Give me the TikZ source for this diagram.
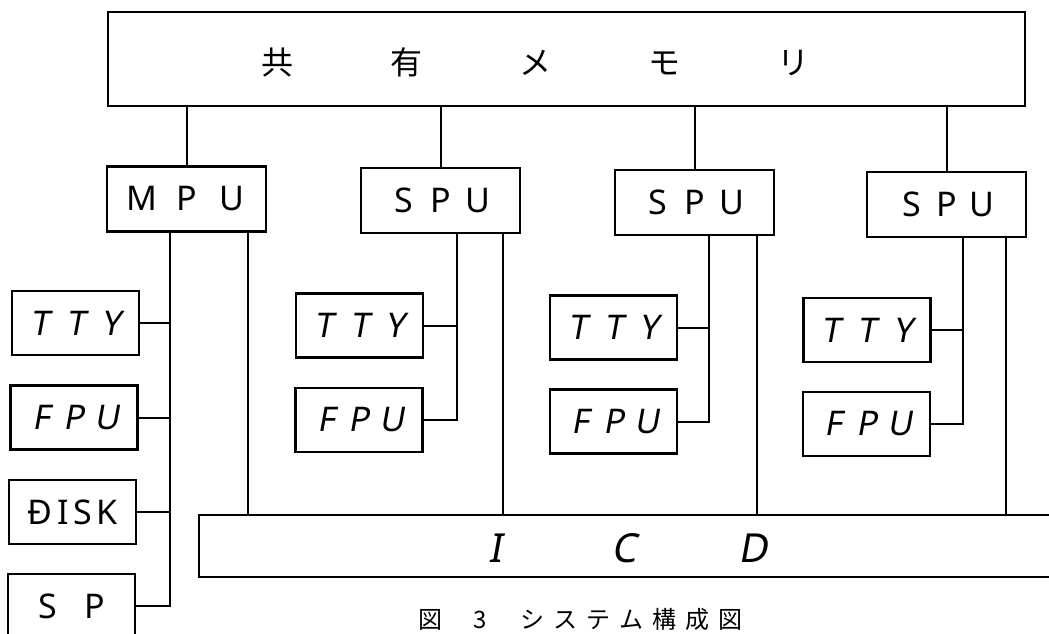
\documentclass[tikz,border=0pt]{standalone}
\usepackage{fontspec}
\setmainfont{Noto Sans}
\newfontfamily\jp{Noto Sans CJK JP}
\newfontfamily\slat[FakeSlant=0.18]{Noto Sans}
\usetikzlibrary{calc}
\newcommand\chbox[2]{\makebox[#1pt]{#2}}
\begin{document}
\begin{tikzpicture}[x=1pt,y=-1pt,
  box/.style={draw, line width=2.5pt, rectangle, inner sep=0pt,
    minimum width=127pt, minimum height=64pt, font=\fontsize{34}{34}\selectfont},
  pu/.style={box, minimum width=159pt, minimum height=65pt},
  wire/.style={line width=2pt},
  lbl/.style={inner sep=0pt}]
\useasboundingbox (0,0) rectangle (1049,634);
\clip (0,0) rectangle (1049,634);
\fill[white] (0,0) rectangle (1049,634);

% shared memory
\node[box, minimum width=917pt, minimum height=94pt] (mem) at (566.5,59) {};
\node[lbl, font=\jp\fontsize{32}{32}\selectfont] (memt) at (535.5,62)
  {\chbox{129}{共}\chbox{129}{有}\chbox{129}{メ}\chbox{129}{モ}\chbox{129}{リ}};

% processors
\node[pu] (mpu)  at (186.5,199)   {\chbox{45}{M}\chbox{45}{P}\chbox{45}{U}};
\node[pu] (spu1) at (440.5,200.5) {\chbox{37}{S}\chbox{37}{P}\chbox{37}{U}};
\node[pu] (spu2) at (694.5,202.5) {\chbox{37}{S}\chbox{37}{P}\chbox{37}{U}};
\node[pu] (spu3) at (946.5,204.5) {\chbox{35}{S}\chbox{35}{P}\chbox{35}{U}};

% MPU peripherals
\node[box] (tty0)  at (75.5,323)  {\slat\chbox{36}{T}\chbox{36}{T}\chbox{36}{Y}};
\node[box] (fpu0)  at (74,417.5)  {\slat\chbox{33}{F}\chbox{33}{P}\chbox{33}{U}};
\node[box] (disk0) at (72.5,512)  {Đ\hspace{5pt}I\hspace{5pt}S\hspace{4pt}K};
\node[box] (sp0)   at (71.5,606)  {\chbox{47}{S}\chbox{47}{P}};

% SPU peripherals
\node[box] (tty1) at (359.5,325.5) {\slat\chbox{36}{T}\chbox{36}{T}\chbox{36}{Y}};
\node[box] (fpu1) at (359,420)     {\slat\chbox{33}{F}\chbox{33}{P}\chbox{33}{U}};
\node[box] (tty2) at (613.5,327.5) {\slat\chbox{36}{T}\chbox{36}{T}\chbox{36}{Y}};
\node[box] (fpu2) at (613.5,421.5) {\slat\chbox{33}{F}\chbox{33}{P}\chbox{33}{U}};
\node[box] (tty3) at (867,330)     {\slat\chbox{36}{T}\chbox{36}{T}\chbox{36}{Y}};
\node[box] (fpu3) at (866.5,424)   {\slat\chbox{33}{F}\chbox{33}{P}\chbox{33}{U}};

% ICD
\node[box, minimum width=871pt, minimum height=62pt] (icd) at (634.5,546) {};
\node[lbl, font=\slat\fontsize{40}{40}\selectfont] (icdt) at (624,548)
  {\chbox{129}{I}\chbox{129}{C}\chbox{129}{D}};

% memory to processors
\foreach \p in {mpu,spu1,spu2,spu3}
  \draw[wire] (\p.north) -- (\p.north |- mem.south);

% drop points
\coordinate (ma)  at ($(mpu.south west)!0.40!(mpu.south east)$);
\coordinate (mb)  at ($(mpu.south west)!0.88!(mpu.south east)$);
\coordinate (s1a) at ($(spu1.south west)!0.60!(spu1.south east)$);
\coordinate (s1b) at ($(spu1.south west)!0.89!(spu1.south east)$);
\coordinate (s2a) at ($(spu2.south west)!0.59!(spu2.south east)$);
\coordinate (s2b) at ($(spu2.south west)!0.89!(spu2.south east)$);
\coordinate (s3a) at ($(spu3.south west)!0.60!(spu3.south east)$);
\coordinate (s3b) at ($(spu3.south west)!0.87!(spu3.south east)$);

% MPU bus
\draw[wire] (ma) |- (sp0.east);
\draw[wire] (tty0.east) -- (tty0.east -| ma);
\draw[wire] (fpu0.east) -- (fpu0.east -| ma);
\draw[wire] (disk0.east) -- (disk0.east -| ma);
\draw[wire] (mb) -- (mb |- icd.north);

% SPU buses
\draw[wire] (s1a) |- (fpu1.east);
\draw[wire] (tty1.east) -- (tty1.east -| s1a);
\draw[wire] (s1b) -- (s1b |- icd.north);
\draw[wire] (s2a) |- (fpu2.east);
\draw[wire] (tty2.east) -- (tty2.east -| s2a);
\draw[wire] (s2b) -- (s2b |- icd.north);
\draw[wire] (s3a) |- (fpu3.east);
\draw[wire] (tty3.east) -- (tty3.east -| s3a);
\draw[wire] (s3b) -- (s3b |- icd.north);

% caption
\node[lbl, font=\jp\fontsize{24}{24}\selectfont] (cap) at (580.5,619)
  {\chbox{33}{図}\hspace{17pt}\chbox{33}{3}\hspace{20pt}\chbox{33}{シ}\chbox{33}{ス}\chbox{33}{テ}\chbox{33}{ム}\chbox{33}{構}\chbox{33}{成}\chbox{33}{図}};
\end{tikzpicture}
\end{document}
